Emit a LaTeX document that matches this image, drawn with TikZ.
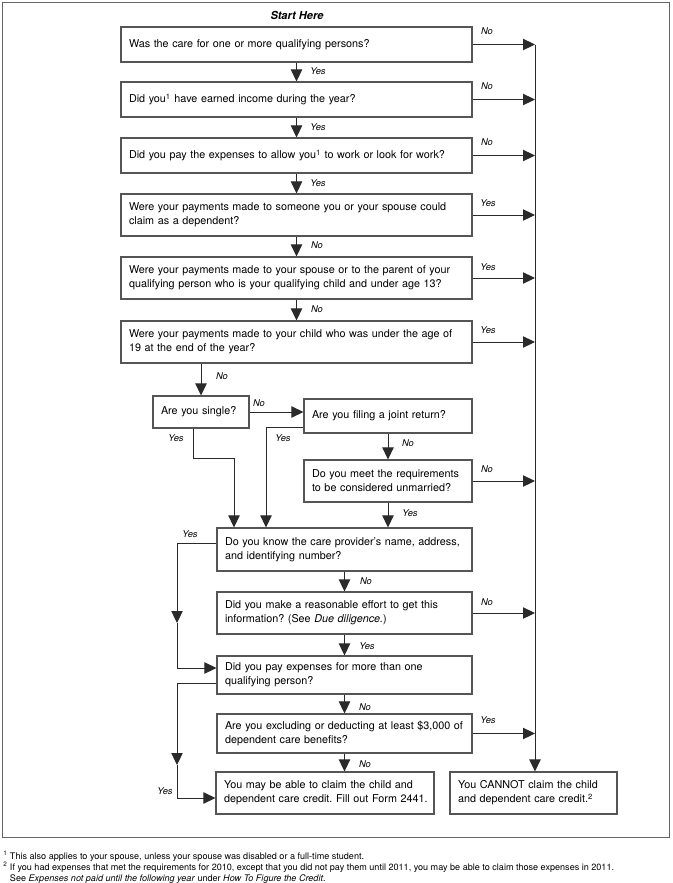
\documentclass[tikz,border=0pt]{standalone}
\usepackage{fontspec}
\setmainfont{TeX Gyre Heros}
\usetikzlibrary{arrows.meta}
\frenchspacing
\definecolor{boxc}{HTML}{555555}
\definecolor{linec}{HTML}{2A2A2A}
\definecolor{framec}{HTML}{666666}
\tikzset{
  qbox/.style={draw=boxc, line width=0.8pt, inner xsep=6pt, inner ysep=0pt, align=left,
    font=\fontsize{8.1}{10.5}\selectfont\frenchspacing, text=black, anchor=center},
  mainbox/.style={qbox, text width=251.25pt, minimum height=26.25pt},
  mainboxtwo/.style={qbox, text width=251.25pt, minimum height=31.5pt},
  lowbox/.style={qbox, text width=179.25pt, minimum height=31.5pt},
  lbl/.style={font=\fontsize{7}{8}\selectfont\itshape, inner sep=0pt, text=black},
  arr/.style={draw=linec, line width=0.75pt, -{Triangle[length=9pt,width=8.5pt]}},
  fnote/.style={font=\fontsize{6.8}{8}\selectfont\frenchspacing, inner sep=0pt, anchor=west, text=black},
}
\begin{document}
\begin{tikzpicture}[x=0.75pt,y=-0.75pt]
\useasboundingbox (0,0) rectangle (673,883);
\draw[framec, line width=0.75pt] (2,2) rectangle (669,837);

\node[font=\fontsize{8.3}{10}\selectfont\bfseries\itshape, inner sep=0pt] (start) at (297,15) {Start Here};

% main column
\node[mainbox] (b1) at (296.5,44.5) {Was the care for one or more qualifying persons?};
\node[mainbox] (b2) at (296.5,99.5) {Did you\textsuperscript{1} have earned income during the year?};
\node[mainbox] (b3) at (296.5,155.5) {Did you pay the expenses to allow you\textsuperscript{1} to work or look for work?};
\node[mainboxtwo] (b4) at (296.5,215) {\mbox{Were your payments made to someone you or your spouse could}\\claim as a dependent?};
\node[mainboxtwo] (b5) at (296.5,278) {\mbox{Were your payments made to your spouse or to the parent of your}\\\mbox{qualifying person who is your qualifying child and under age 13?}};
\node[mainboxtwo] (b6) at (296.5,342) {\mbox{Were your payments made to your child who was under the age of}\\19 at the end of the year?};

\node[qbox, text width=60pt, minimum height=24pt] (single) at (201,412) {Are you single?};
\node[qbox, text width=114pt, minimum height=25.5pt] (joint) at (388,416) {Are you filing a joint return?};
\node[qbox, text width=114pt, minimum height=31.5pt] (unm) at (388,481) {Do you meet the requirements\\to be considered unmarried?};

\node[lowbox, minimum height=32.25pt] (care) at (344.5,549.5) {\mbox{Do you know the care provider's name, address,}\\and identifying number?};
\node[lowbox] (reas) at (344.5,613) {Did you make a reasonable effort to get this\\information? (See \textit{Due diligence.})};
\node[lowbox, minimum height=28.5pt] (pay) at (344.5,675) {Did you pay expenses for more than one\\qualifying person?};
\node[lowbox, minimum height=29.25pt] (excl) at (344.5,733.5) {\mbox{Are you excluding or deducting at least \$3,000 of}\\dependent care benefits?};

\node[qbox, text width=151.5pt, minimum height=31.5pt] (final) at (325,793) {\mbox{You may be able to claim the child and}\\\mbox{dependent care credit. Fill out Form 2441.}};
\node[qbox, text width=113.25pt, minimum height=31.5pt] (cannot) at (533.5,793) {You CANNOT claim the child\\and dependent care credit.\textsuperscript{2}};

\coordinate (trunk) at (535,44.5);

% down arrows main column
\draw[arr] (b1.south) -- (b2.north);
\draw[arr] (b2.south) -- (b3.north);
\draw[arr] (b3.south) -- (b4.north);
\draw[arr] (b4.south) -- (b5.north);
\draw[arr] (b5.south) -- (b6.north);
\draw[arr] (single.north |- b6.south) -- (single.north);
\draw[arr] (single.east) -- (single.east -| joint.west);
\draw[arr] (joint.south) -- (unm.north);
\draw[arr] (unm.south) -- (unm.south |- care.north);
\draw[arr] (193,0 |- single.south) -- (193,458) -- (234,458) -- (234,0 |- care.north);
\draw[arr] (joint.west |- 0,427) -- (266,427) -- (266,0 |- care.north);
\draw[arr] (care.south) -- (reas.north);
\draw[arr] (reas.south) -- (pay.north);
\draw[arr] (pay.south) -- (excl.north);
\draw[arr] (excl.south) -- (excl.south |- final.north);

% left loops
\coordinate (ca) at (177,623);
\coordinate (pa) at (177,765);
\draw[arr] (care.west |- 0,543) -- (177,543) -- (ca);
\draw[arr] (ca) -- (177,668) -- (pay.west |- 0,668);
\draw[arr] (pay.west |- 0,683) -- (177,683) -- (pa);
\draw[arr] (pa) -- (177,798) -- (final.west |- 0,798);

% right arrows to trunk
\draw[arr] (b1.east) -- (b1.east -| trunk);
\draw[arr] (b2.east) -- (b2.east -| trunk);
\draw[arr] (b3.east) -- (b3.east -| trunk);
\draw[arr] (b4.east) -- (b4.east -| trunk);
\draw[arr] (b5.east) -- (b5.east -| trunk);
\draw[arr] (b6.east) -- (b6.east -| trunk);
\draw[arr] (unm.east) -- (unm.east -| trunk);
\draw[arr] (reas.east) -- (reas.east -| trunk);
\draw[arr] (excl.east) -- (excl.east -| trunk);
\draw[arr] (trunk) -- (trunk |- cannot.north);

% labels
\node[lbl] (n1) at (487,31) {No};
\node[lbl] (n2) at (487,86) {No};
\node[lbl] (n3) at (487,142) {No};
\node[lbl] (y4) at (488,203) {Yes};
\node[lbl] (y5) at (488,267) {Yes};
\node[lbl] (y6) at (488,330) {Yes};
\node[lbl] (nu) at (487,469) {No};
\node[lbl] (nr) at (487,602) {No};
\node[lbl] (ye) at (488,720) {Yes};

\node[lbl] (d1) at (318,71) {Yes};
\node[lbl] (d2) at (318,127) {Yes};
\node[lbl] (d3) at (318,183) {Yes};
\node[lbl] (d4) at (317,245) {No};
\node[lbl] (d5) at (317,309) {No};
\node[lbl] (d6) at (222,376) {No};
\node[lbl] (ds) at (259,403) {No};
\node[lbl] (ys) at (176,438) {Yes};
\node[lbl] (yj) at (283,438) {Yes};
\node[lbl] (dj) at (408,443) {No};
\node[lbl] (du) at (410,513) {Yes};
\node[lbl] (yc) at (190,534) {Yes};
\node[lbl] (dc) at (366,581) {No};
\node[lbl] (dr) at (367,646) {Yes};
\node[lbl] (dp) at (365,707) {No};
\node[lbl] (de) at (365,764) {No};
\node[lbl] (yp) at (165,791) {Yes};

% footnotes
\node[fnote] (f1) at (3,856) {\textsuperscript{1} This also applies to your spouse, unless your spouse was disabled or a full-time student.};
\node[fnote] (f2) at (3,867.5) {\textsuperscript{2} If you had expenses that met the requirements for 2010, except that you did not pay them until 2011, you may be able to claim those expenses in 2011.};
\node[fnote] (f3) at (3,878.5) {\phantom{\textsuperscript{2} }See \textit{Expenses not paid until the following year} under \textit{How To Figure the Credit}.};
\end{tikzpicture}
\end{document}
